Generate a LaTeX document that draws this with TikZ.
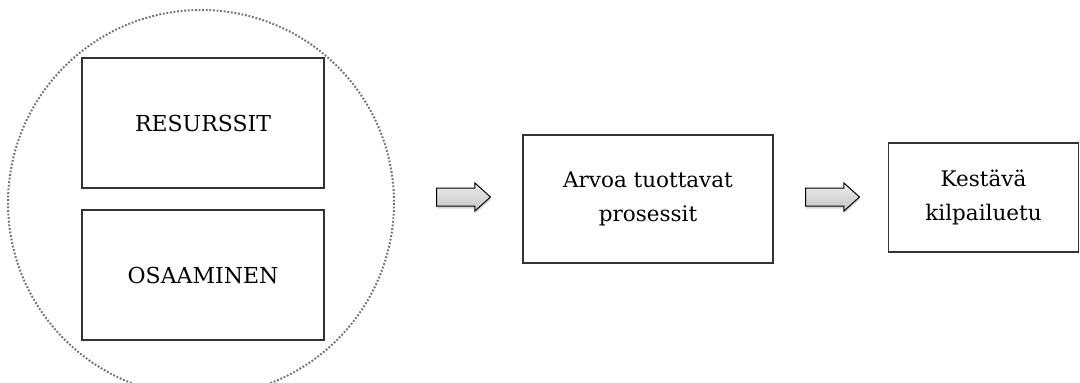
\documentclass[tikz,border=0pt]{standalone}
\usepackage{fontspec}
\setmainfont{DejaVu Serif}
\usetikzlibrary{shapes.arrows,shadows}
\begin{document}
\begin{tikzpicture}[x=1pt,y=-1pt,
  box/.style={draw=black!80, line width=1.2pt, fill=white, align=center, inner sep=0pt},
  bigtext/.style={font=\fontsize{22}{34}\selectfont},
  smalltext/.style={font=\fontsize{21.5}{34}\selectfont},
  blockarrow/.style={single arrow, draw=black, line width=1pt,
    minimum height=54pt, inner xsep=0pt, inner ysep=8.5pt,
    single arrow head extend=5pt,
    single arrow tip angle=84, anchor=tail,
    top color=black!8, bottom color=black!22,
    drop shadow={opacity=0.3, shadow xshift=0.5pt, shadow yshift=-2.5pt}}]
\useasboundingbox (0,0) rectangle (1080,383);
\clip (0,0) rectangle (1080,383);
\draw[black!55, line width=2pt, dash pattern=on 1.8pt off 1.8pt] (201,203) circle[radius=193];
\node[box, bigtext, minimum width=242pt, minimum height=130pt] (res) at (203,123) {RESURSSIT};
\node[box, bigtext, minimum width=242pt, minimum height=130pt] (osa) at (203,275) {OSAAMINEN};
\node[box, smalltext, minimum width=250pt, minimum height=128pt] (arvo) at (648,199) {Arvoa tuottavat\\prosessit};
\node[box, smalltext, minimum width=190pt, minimum height=109pt] (kilp) at (983.5,197.5) {Kestävä\\kilpailuetu};
\node[blockarrow] (a1) at (436,197) {};
\node[blockarrow] (a2) at (805,197) {};
\end{tikzpicture}
\end{document}
